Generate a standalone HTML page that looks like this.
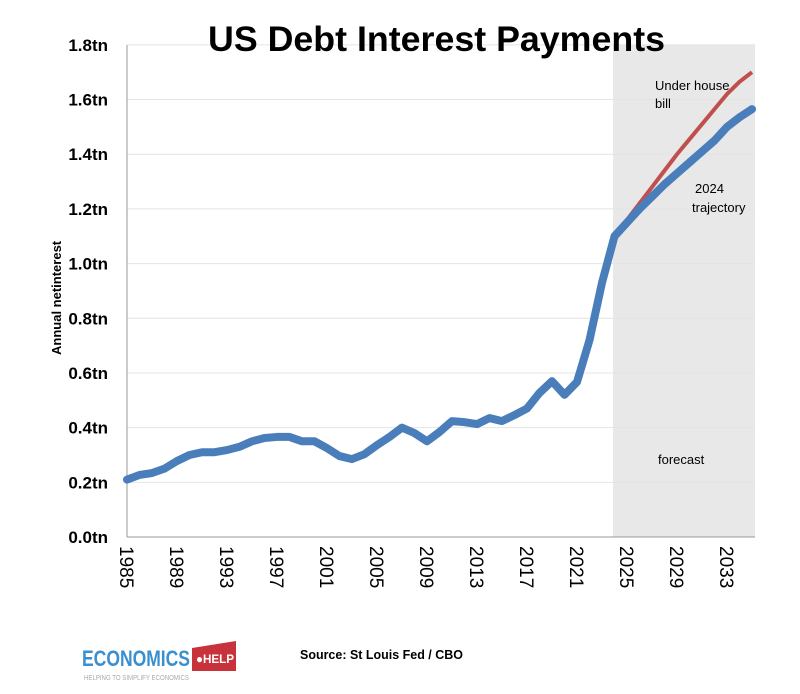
<!DOCTYPE html>
<html><head><meta charset="utf-8"><style>
body{margin:0;background:#fff;width:800px;height:689px;overflow:hidden;font-family:"Liberation Sans",sans-serif}
</style></head><body>
<svg width="800" height="689">
<rect x="613" y="45" width="142" height="492" fill="#e8e8e8"/>
<g id="grid"></g>
<line x1="127" y1="45" x2="127" y2="537" stroke="#999"/>
<line x1="127" y1="537" x2="755" y2="537" stroke="#999"/>
<g id="yt"></g><g id="xt"></g>
<text transform="translate(61,355) rotate(-90)" font-size="13" font-weight="bold">Annual netinterest</text>
<path id="red" fill="none" stroke="#c0504d" stroke-width="4" stroke-linejoin="round"/>
<path id="blue" fill="none" stroke="#4a7ebb" stroke-width="8" stroke-linejoin="round" stroke-linecap="round"/>
<text x="655" y="90" font-size="13">Under house</text>
<text x="655" y="108" font-size="13">bill</text>
<text x="695" y="193" font-size="13">2024</text>
<text x="692" y="212" font-size="13">trajectory</text>
<text x="658" y="464" font-size="13">forecast</text>
<text x="208" y="51" textLength="457" lengthAdjust="spacingAndGlyphs" font-size="35" font-weight="bold">US Debt Interest Payments</text>
<g>
<text x="82" y="666" textLength="108" lengthAdjust="spacingAndGlyphs" font-size="22" font-weight="bold" fill="#3a8fd0">ECONOMICS</text>
<path d="M192 648 L236 641 L236 671 L192 671 Z" fill="#c8323a"/>
<text x="196" y="663" textLength="38" lengthAdjust="spacingAndGlyphs" font-size="12" font-weight="bold" fill="#fff">●HELP</text>
<text x="84" y="680" textLength="105" lengthAdjust="spacingAndGlyphs" font-size="7" fill="#aaa">HELPING TO SIMPLIFY ECONOMICS</text>
</g>
<text x="300" y="659" textLength="163" lengthAdjust="spacingAndGlyphs" font-size="13" font-weight="bold">Source: St Louis Fed / CBO</text>
</svg>
<script>
const years=[1985,1986,1987,1988,1989,1990,1991,1992,1993,1994,1995,1996,1997,1998,1999,2000,2001,2002,2003,2004,2005,2006,2007,2008,2009,2010,2011,2012,2013,2014,2015,2016,2017,2018,2019,2020,2021,2022,2023,2024,2025,2026,2027,2028,2029,2030,2031,2032,2033,2034,2035];
const interest=[0.21,0.227,0.234,0.25,0.278,0.30,0.31,0.31,0.318,0.33,0.35,0.362,0.366,0.366,0.35,0.35,0.325,0.296,0.285,0.303,0.336,0.366,0.40,0.38,0.35,0.384,0.424,0.42,0.413,0.435,0.424,0.446,0.47,0.527,0.57,0.52,0.567,0.72,0.93,1.1,1.15,1.2,1.245,1.29,1.33,1.37,1.41,1.45,1.5,1.535,1.565];
const billYears=[2024,2025,2026,2027,2028,2029,2030,2031,2032,2033,2034,2035];
const billValues=[1.1,1.16,1.22,1.28,1.34,1.40,1.455,1.51,1.565,1.62,1.665,1.70];
const yTicks=[0,0.2,0.4,0.6,0.8,1.0,1.2,1.4,1.6,1.8];
const yTickLabels=["0.0tn","0.2tn","0.4tn","0.6tn","0.8tn","1.0tn","1.2tn","1.4tn","1.6tn","1.8tn"];
const xTickYears=[1985,1989,1993,1997,2001,2005,2009,2013,2017,2021,2025,2029,2033];
const NS="http://www.w3.org/2000/svg";
const X=y=>127+(y-1985)*12.5;
const Y=v=>537-v*273.4;
const grid=document.getElementById('grid'),yt=document.getElementById('yt'),xt=document.getElementById('xt');
yTicks.forEach((v,i)=>{
 if(v>0){const l=document.createElementNS(NS,'line');
 l.setAttribute('x1',127);l.setAttribute('x2',755);l.setAttribute('y1',Y(v));l.setAttribute('y2',Y(v));
 l.setAttribute('stroke','#e4e4e4');
 
 
 grid.appendChild(l);}
 const t=document.createElementNS(NS,'text');
 t.setAttribute('x',108);t.setAttribute('y',Y(v)+6);t.setAttribute('text-anchor','end');
 t.setAttribute('font-size','17');t.setAttribute('font-weight','bold');t.textContent=yTickLabels[i];
 
 
 yt.appendChild(t);
});
xTickYears.forEach(yr=>{
 const t=document.createElementNS(NS,'text');
 t.setAttribute('transform',`translate(${X(yr)-7},546) rotate(90)`);
 t.setAttribute('font-size','19');t.textContent=yr;
 
 
 xt.appendChild(t);
});
document.getElementById('blue').setAttribute('d',years.map((y,i)=>(i?'L':'M')+X(y)+' '+Y(interest[i])).join(''));
document.getElementById('red').setAttribute('d',billYears.map((y,i)=>(i?'L':'M')+X(y)+' '+Y(billValues[i])).join(''));
</script>
</body></html>
